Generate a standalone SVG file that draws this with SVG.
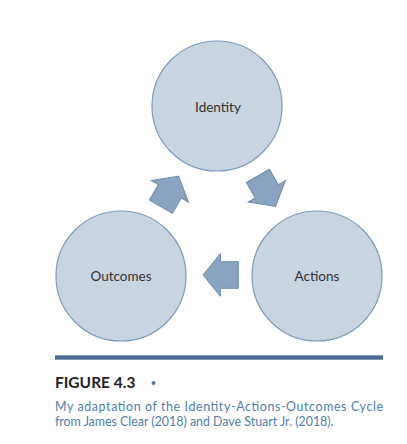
<svg xmlns="http://www.w3.org/2000/svg" xmlns:xlink="http://www.w3.org/1999/xlink" width="407" height="444" viewBox="0 0 407 444">
<style>
.node{fill:#c9d4e1;stroke:#7d9bbd;stroke-width:1.2}
.lbl{font-family:Lato,"Noto Sans",sans-serif;font-size:13.5px;fill:#333;text-anchor:middle}
.arrow{fill:#8aa3c0;stroke:#6f8db0;stroke-width:1}
.cap{font-family:Lato,"Noto Sans",sans-serif;font-size:12.4px;fill:#4f7eab}
</style>
<defs>
<path id="arr" d="M17.5,0 L0,-21.5 L0,-13.3 L-17.8,-13.3 L-17.8,13.3 L0,13.3 L0,21.5 Z"/>
</defs>
<rect width="407" height="444" fill="#fff"/>
<g id="identity"><circle class="node" cx="217" cy="106" r="65"/><text class="lbl" x="218" y="112">Identity</text></g>
<g id="actions"><circle class="node" cx="317" cy="276" r="65"/><text class="lbl" x="317" y="281">Actions</text></g>
<g id="outcomes"><circle class="node" cx="121" cy="276" r="65"/><text class="lbl" x="121" y="281">Outcomes</text></g>
<g id="connectors">
<use xlink:href="#arr" class="arrow" transform="translate(266.8,191.3) rotate(60)"/>
<use xlink:href="#arr" class="arrow" transform="translate(220.5,275) rotate(180)"/>
<use xlink:href="#arr" class="arrow" transform="translate(169.8,191.3) rotate(-60)"/>
</g>
<rect x="55" y="355.3" width="328" height="4.4" fill="#4d6f96"/>
<text x="55" y="388" font-family="Lato,'Noto Sans',sans-serif" font-size="15.5" font-weight="bold" fill="#222">FIGURE 4.3</text>
<circle cx="153.5" cy="383" r="2" fill="#4f7eab"/>
<text class="cap" x="55" y="411" textLength="328" lengthAdjust="spacing">My adaptation of the Identity-Actions-Outcomes Cycle</text>
<text class="cap" x="55" y="425.5">from James Clear (2018) and Dave Stuart Jr. (2018).</text>
</svg>
